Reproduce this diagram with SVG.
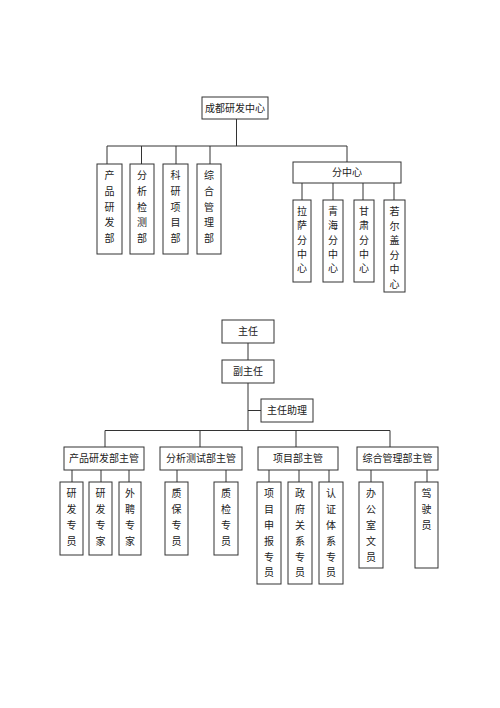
<svg xmlns="http://www.w3.org/2000/svg" width="500" height="708" viewBox="0 0 500 708">
<style>
.b{fill:#fff;stroke:#333;stroke-width:1}
.l{fill:none;stroke:#333;stroke-width:1}
text{font-family:"Noto Sans CJK SC","Liberation Sans",sans-serif;font-size:10px;fill:#222;text-anchor:middle}
</style>
<rect width="500" height="708" fill="#fff"/>
<g id="connectors">
<path class="l" d="M236.5 119V146M107 146H347M107 146V164M141.5 146V164M176 146V164M210 146V164M347 146V162"/>
<path class="l" d="M302 183V200M333 183V200M363 183V200M394 183V200"/>
<path class="l" d="M248 343V360M248 383V430.5M248 410.5H261M105 430.5H390M105 430.5V447M200 430.5V447M296 430.5V447M390 430.5V447"/>
<path class="l" d="M72 470V482M101 470V482M129 470V482M177 470V482M226 470V482M269 470V482M299 470V482M329 470V482M371 470V482M427 470V482"/>
</g>
<g id="n-chengdu"><rect class="b" x="202" y="97" width="66" height="22"/><text x="235" y="111.5">成都研发中心</text></g>
<g id="n-cp"><rect class="b" x="97" y="164" width="25" height="90"/><text><tspan x="109.5" y="178.5">产</tspan><tspan x="109.5" y="194.5">品</tspan><tspan x="109.5" y="210.5">研</tspan><tspan x="109.5" y="225.5">发</tspan><tspan x="109.5" y="241.5">部</tspan></text></g>
<g id="n-fx"><rect class="b" x="130" y="164" width="24" height="90"/><text><tspan x="142" y="178.5">分</tspan><tspan x="142" y="194.5">析</tspan><tspan x="142" y="210.5">检</tspan><tspan x="142" y="225.5">测</tspan><tspan x="142" y="241.5">部</tspan></text></g>
<g id="n-ky"><rect class="b" x="163" y="164" width="25" height="90"/><text><tspan x="175.5" y="178.5">科</tspan><tspan x="175.5" y="194.5">研</tspan><tspan x="175.5" y="210.5">项</tspan><tspan x="175.5" y="225.5">目</tspan><tspan x="175.5" y="241.5">部</tspan></text></g>
<g id="n-zh"><rect class="b" x="197" y="164" width="24" height="90"/><text><tspan x="209" y="178.5">综</tspan><tspan x="209" y="194.5">合</tspan><tspan x="209" y="210.5">管</tspan><tspan x="209" y="225.5">理</tspan><tspan x="209" y="241.5">部</tspan></text></g>
<g id="n-fzx"><rect class="b" x="293" y="162" width="108" height="21"/><text x="347" y="176">分中心</text></g>
<g id="n-ls"><rect class="b" x="293" y="200" width="18" height="82"/><text><tspan x="302" y="214.5">拉</tspan><tspan x="302" y="228.5">萨</tspan><tspan x="302" y="243.5">分</tspan><tspan x="302" y="257.5">中</tspan><tspan x="302" y="271.5">心</tspan></text></g>
<g id="n-qh"><rect class="b" x="323" y="200" width="20" height="82"/><text><tspan x="333" y="214.5">青</tspan><tspan x="333" y="228.5">海</tspan><tspan x="333" y="243.5">分</tspan><tspan x="333" y="257.5">中</tspan><tspan x="333" y="271.5">心</tspan></text></g>
<g id="n-gs"><rect class="b" x="354" y="200" width="20" height="82"/><text><tspan x="364" y="214.5">甘</tspan><tspan x="364" y="228.5">肃</tspan><tspan x="364" y="243.5">分</tspan><tspan x="364" y="257.5">中</tspan><tspan x="364" y="271.5">心</tspan></text></g>
<g id="n-reg"><rect class="b" x="384" y="200" width="21" height="92"/><text><tspan x="394.5" y="215">若</tspan><tspan x="394.5" y="229.5">尔</tspan><tspan x="394.5" y="244">盖</tspan><tspan x="394.5" y="258.5">分</tspan><tspan x="394.5" y="273">中</tspan><tspan x="394.5" y="287.5">心</tspan></text></g>
<g id="n-zr"><rect class="b" x="222" y="320" width="52" height="23"/><text x="248" y="335">主任</text></g>
<g id="n-fzr"><rect class="b" x="222" y="360" width="52" height="23"/><text x="248" y="375">副主任</text></g>
<g id="n-zrzl"><rect class="b" x="261" y="399" width="52" height="23"/><text x="287" y="414">主任助理</text></g>
<g id="n-m1"><rect class="b" x="64" y="447" width="80" height="23"/><text x="104" y="462">产品研发部主管</text></g>
<g id="n-m2"><rect class="b" x="160" y="447" width="82" height="23"/><text x="201" y="462">分析测试部主管</text></g>
<g id="n-m3"><rect class="b" x="258" y="447" width="80" height="23"/><text x="298" y="462">项目部主管</text></g>
<g id="n-m4"><rect class="b" x="357" y="447" width="81" height="23"/><text x="397.5" y="462">综合管理部主管</text></g>
<g id="n-l1"><rect class="b" x="60" y="482" width="23" height="73"/><text><tspan x="71.5" y="496.5">研</tspan><tspan x="71.5" y="512.5">发</tspan><tspan x="71.5" y="528.5">专</tspan><tspan x="71.5" y="544.5">员</tspan></text></g>
<g id="n-l2"><rect class="b" x="89" y="482" width="23" height="73"/><text><tspan x="100.5" y="496.5">研</tspan><tspan x="100.5" y="512.5">发</tspan><tspan x="100.5" y="528.5">专</tspan><tspan x="100.5" y="544.5">家</tspan></text></g>
<g id="n-l3"><rect class="b" x="119" y="482" width="22" height="73"/><text><tspan x="130" y="496.5">外</tspan><tspan x="130" y="512.5">聘</tspan><tspan x="130" y="528.5">专</tspan><tspan x="130" y="544.5">家</tspan></text></g>
<g id="n-l4"><rect class="b" x="165" y="482" width="23" height="73"/><text><tspan x="176.5" y="496.5">质</tspan><tspan x="176.5" y="512.5">保</tspan><tspan x="176.5" y="528.5">专</tspan><tspan x="176.5" y="544.5">员</tspan></text></g>
<g id="n-l5"><rect class="b" x="214" y="482" width="24" height="73"/><text><tspan x="226" y="496.5">质</tspan><tspan x="226" y="512.5">检</tspan><tspan x="226" y="528.5">专</tspan><tspan x="226" y="544.5">员</tspan></text></g>
<g id="n-l6"><rect class="b" x="257" y="482" width="24" height="102"/><text><tspan x="269" y="496.5">项</tspan><tspan x="269" y="512.5">目</tspan><tspan x="269" y="528.5">申</tspan><tspan x="269" y="544.5">报</tspan><tspan x="269" y="560.5">专</tspan><tspan x="269" y="575.5">员</tspan></text></g>
<g id="n-l7"><rect class="b" x="288" y="482" width="24" height="102"/><text><tspan x="300" y="496.5">政</tspan><tspan x="300" y="512.5">府</tspan><tspan x="300" y="528.5">关</tspan><tspan x="300" y="544.5">系</tspan><tspan x="300" y="560.5">专</tspan><tspan x="300" y="575.5">员</tspan></text></g>
<g id="n-l8"><rect class="b" x="319" y="482" width="24" height="102"/><text><tspan x="331" y="496.5">认</tspan><tspan x="331" y="512.5">证</tspan><tspan x="331" y="528.5">体</tspan><tspan x="331" y="544.5">系</tspan><tspan x="331" y="560.5">专</tspan><tspan x="331" y="575.5">员</tspan></text></g>
<g id="n-l9"><rect class="b" x="359" y="482" width="24" height="86"/><text><tspan x="371" y="496.5">办</tspan><tspan x="371" y="512.5">公</tspan><tspan x="371" y="528.5">室</tspan><tspan x="371" y="544.5">文</tspan><tspan x="371" y="560.5">员</tspan></text></g>
<g id="n-l10"><rect class="b" x="415" y="482" width="23" height="86"/><text><tspan x="426.5" y="496.5">驾</tspan><tspan x="426.5" y="512.5">驶</tspan><tspan x="426.5" y="528.5">员</tspan></text></g>
</svg>
